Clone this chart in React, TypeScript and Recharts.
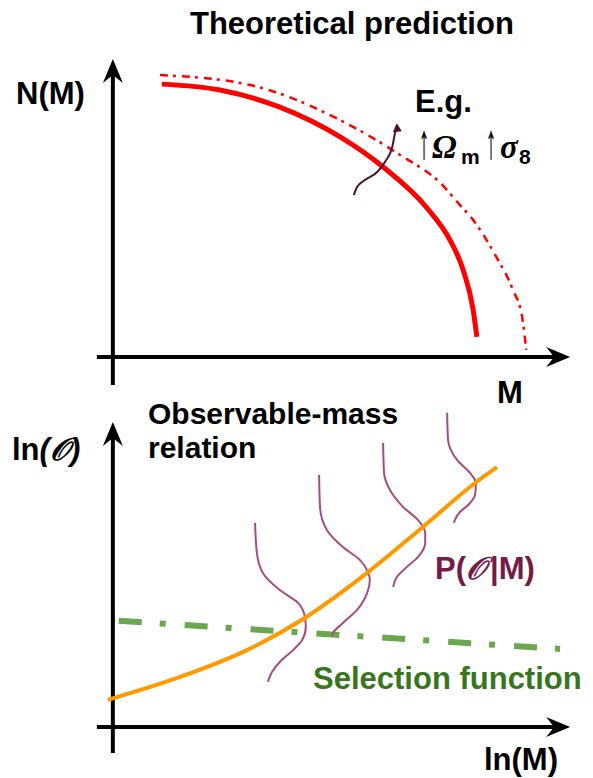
import React from "react";
import {
  ComposedChart,
  Line,
  XAxis,
  YAxis,
  ReferenceLine,
} from "recharts";

// top panel: halo mass function N(M), arbitrary units 0-100
const massNow = [10.7, 23.4, 36.5, 49.7, 59.1, 68.7, 73.7, 76.6, 78.8, 79.6];
const countNow = [92.5, 90.5, 84.7, 74.6, 64.4, 50.5, 39.7, 29.5, 15.9, 6.8];
const massShifted = [10.3, 30.0, 49.7, 62.8, 71.6, 75.9, 78.8, 83.6, 87.5, 89.5, 90.4];
const countShifted = [95.6, 92.2, 80.3, 68.5, 59.0, 51.5, 46.4, 34.6, 22.7, 13.6, 2.4];
const arrowMass = [52.7, 53.4, 55.1, 57.8, 59.5, 61.1, 61.7, 62.1];
const arrowCount = [54.9, 57.6, 60.0, 62.7, 66.1, 71.2, 75.9, 78.6];

// bottom panel: ln(O) vs ln(M)
const relLnM = [-1.1, 14.7, 29.3, 41.6, 55.8, 67.8, 79.2, 84.0];
const relLnO = [8.9, 16.4, 25.2, 35.4, 50.8, 65.6, 80.0, 85.2];
const selLnM = [1.3, 97.8];
const selLnO = [34.8, 25.6];

// scatter P(O|M) at four masses (drawn bottom -> top)
const scatterX = [
  [33.9, 34.8, 36.5, 39.4, 41.4, 42.2, 42.0, 40.5, 36.5, 32.8, 31.5, 31.1],
  [47.9, 48.1, 50.3, 53.4, 55.6, 56.2, 55.8, 54.0, 50.3, 46.8, 45.3, 45.1],
  [61.3, 62.1, 64.3, 66.7, 68.3, 68.3, 66.7, 63.5, 60.6, 59.3, 59.1],
  [74.6, 74.8, 75.9, 77.7, 79.2, 79.4, 78.1, 75.3, 73.3, 73.1],
];
const scatterY = [
  [14.8, 18.0, 21.3, 25.2, 28.5, 32.8, 36.1, 40.7, 44.9, 50.5, 57.0, 66.9],
  [29.8, 30.8, 34.1, 38.4, 43.9, 48.2, 50.8, 54.8, 59.0, 64.6, 72.1, 82.6],
  [45.9, 49.2, 52.5, 55.7, 60.3, 63.6, 67.9, 72.1, 77.7, 83.3, 93.1],
  [66.9, 67.9, 70.5, 72.8, 76.1, 80.0, 83.3, 87.5, 94.1, 103.0],
];

const zip = (xs: number[], ys: number[]) => xs.map((x, i) => ({ x, y: ys[i] }));

const FONT = "'Liberation Sans', Arial, sans-serif";

// axis line with a stealth arrow head at its end
const AxisArrow = (props: any) => {
  const { x1, y1, x2, y2 } = props;
  const a = Math.atan2(y2 - y1, x2 - x1);
  const rot = (px: number, py: number) =>
    `${x2 + px * Math.cos(a) - py * Math.sin(a)},${y2 + px * Math.sin(a) + py * Math.cos(a)}`;
  const ex = x2 - 14 * Math.cos(a);
  const ey = y2 - 14 * Math.sin(a);
  return (
    <g>
      <line x1={x1} y1={y1} x2={ex} y2={ey} stroke="#000" strokeWidth={4} />
      <polygon points={[rot(0, 0), rot(-24, -10), rot(-16, 0), rot(-24, 10)].join(" ")} fill="#000" />
    </g>
  );
};

const ArrowTip = (props: any) => {
  const { cx, cy, index } = props;
  if (index !== arrowMass.length - 1) return <g key={index} />;
  return (
    <polygon
      key={index}
      points={`${cx},${cy - 2} ${cx - 4},${cy + 7} ${cx + 5},${cy + 6}`}
      fill="#4c1130"
    />
  );
};

const bold = { fontFamily: FONT, fontWeight: 700, fontSize: 31, fill: "#000" };
const greek = { ...bold, fontSize: 33, fontStyle: "italic", fontFamily: "'Liberation Serif', serif" };
const upArrow = { ...bold, fontWeight: 400, fontSize: 40, stroke: "#000", strokeWidth: 0.4 };
const sub = { ...bold, fontSize: 21 };

export default function App() {
  return (
    <div style={{ position: "absolute", left: 0, top: 0, width: 593, height: 778, background: "#fff" }}>
      <div style={{ position: "absolute", left: 0, top: 0 }}>
        <ComposedChart width={593} height={410} margin={{ top: 62, right: 0, bottom: 53, left: 90 }}>
          <XAxis type="number" dataKey="x" domain={[-5, 105]} hide />
          <YAxis type="number" dataKey="y" domain={[0, 100]} hide />
          <ReferenceLine ifOverflow="visible" segment={[{ x: -3.5, y: 0 }, { x: 100, y: 0 }]} shape={AxisArrow} />
          <ReferenceLine ifOverflow="visible" segment={[{ x: 0, y: -9.5 }, { x: 0, y: 101 }]} shape={AxisArrow} />
          <Line data={zip(massShifted, countShifted)} dataKey="y" type="monotone" stroke="#ff0000"
            strokeWidth={2.5} strokeDasharray="8 5 3 6" dot={false} activeDot={false} isAnimationActive={false} />
          <Line data={zip(massNow, countNow)} dataKey="y" type="monotone" stroke="#ff0000"
            strokeWidth={5} dot={false} activeDot={false} isAnimationActive={false} />
          <Line data={zip(arrowMass, arrowCount)} dataKey="y" type="monotone" stroke="#4c1130"
            strokeWidth={2} dot={ArrowTip} activeDot={false} isAnimationActive={false} />
          <text x={190} y={34} style={bold}>Theoretical prediction</text>
          <text x={16} y={104} style={bold}>N(M)</text>
          <text x={497} y={403} style={bold}>M</text>
          <text x={415} y={112} style={bold}>E.g.</text>
          <text transform="translate(424,158) scale(0.5,1.2)" textAnchor="middle" style={upArrow}>↑</text>
          <text x={432} y={158} style={greek}>Ω</text>
          <text x={461} y={164} style={sub}>m</text>
          <text transform="translate(491,158) scale(0.5,1.2)" textAnchor="middle" style={upArrow}>↑</text>
          <text x={500} y={158} style={greek}>σ</text>
          <text x={519} y={164} style={sub}>8</text>
        </ComposedChart>
      </div>
      <div style={{ position: "absolute", left: 0, top: 390 }}>
        <ComposedChart width={593} height={388} margin={{ top: 1.5, right: 0, bottom: 51, left: 90 }}>
          <XAxis type="number" dataKey="x" domain={[-5, 105]} hide />
          <YAxis type="number" dataKey="y" domain={[0, 110]} hide />
          <ReferenceLine ifOverflow="visible" segment={[{ x: -3.5, y: 0 }, { x: 100, y: 0 }]} shape={AxisArrow} />
          <ReferenceLine ifOverflow="visible" segment={[{ x: 0, y: -8.5 }, { x: 0, y: 100 }]} shape={AxisArrow} />
          <Line data={zip(selLnM, selLnO)} dataKey="y" type="linear" stroke="#6aa84f"
            strokeWidth={6} strokeDasharray="23 18 6 19" dot={false} activeDot={false} isAnimationActive={false} />
          {scatterX.map((xs, i) => (
            <Line key={i} data={zip(xs, scatterY[i])} dataKey="y" type="monotoneY" stroke="#a64d79"
              strokeWidth={2} dot={false} activeDot={false} isAnimationActive={false} />
          ))}
          <Line data={zip(relLnM, relLnO)} dataKey="y" type="monotone" stroke="#ff9900"
            strokeWidth={4} dot={false} activeDot={false} isAnimationActive={false} />
          <text x={148} y={34} style={{ ...bold, fontSize: 30 }}>Observable-mass</text>
          <text x={148} y={68} style={{ ...bold, fontSize: 30 }}>relation</text>
          <text x={12} y={70} style={bold}>
            ln<tspan style={{ fontStyle: "italic" }}>(𝒪)</tspan>
          </text>
          <text x={435} y={189} style={{ ...bold, fill: "#741b47" }}>
            P(<tspan style={{ fontStyle: "italic" }}>𝒪</tspan><tspan dx={4}>|M)</tspan>
          </text>
          <text x={313} y={299} style={{ ...bold, fill: "#38761d" }}>Selection function</text>
          <text x={484} y={380} style={bold}>ln(M)</text>
        </ComposedChart>
      </div>
    </div>
  );
}
